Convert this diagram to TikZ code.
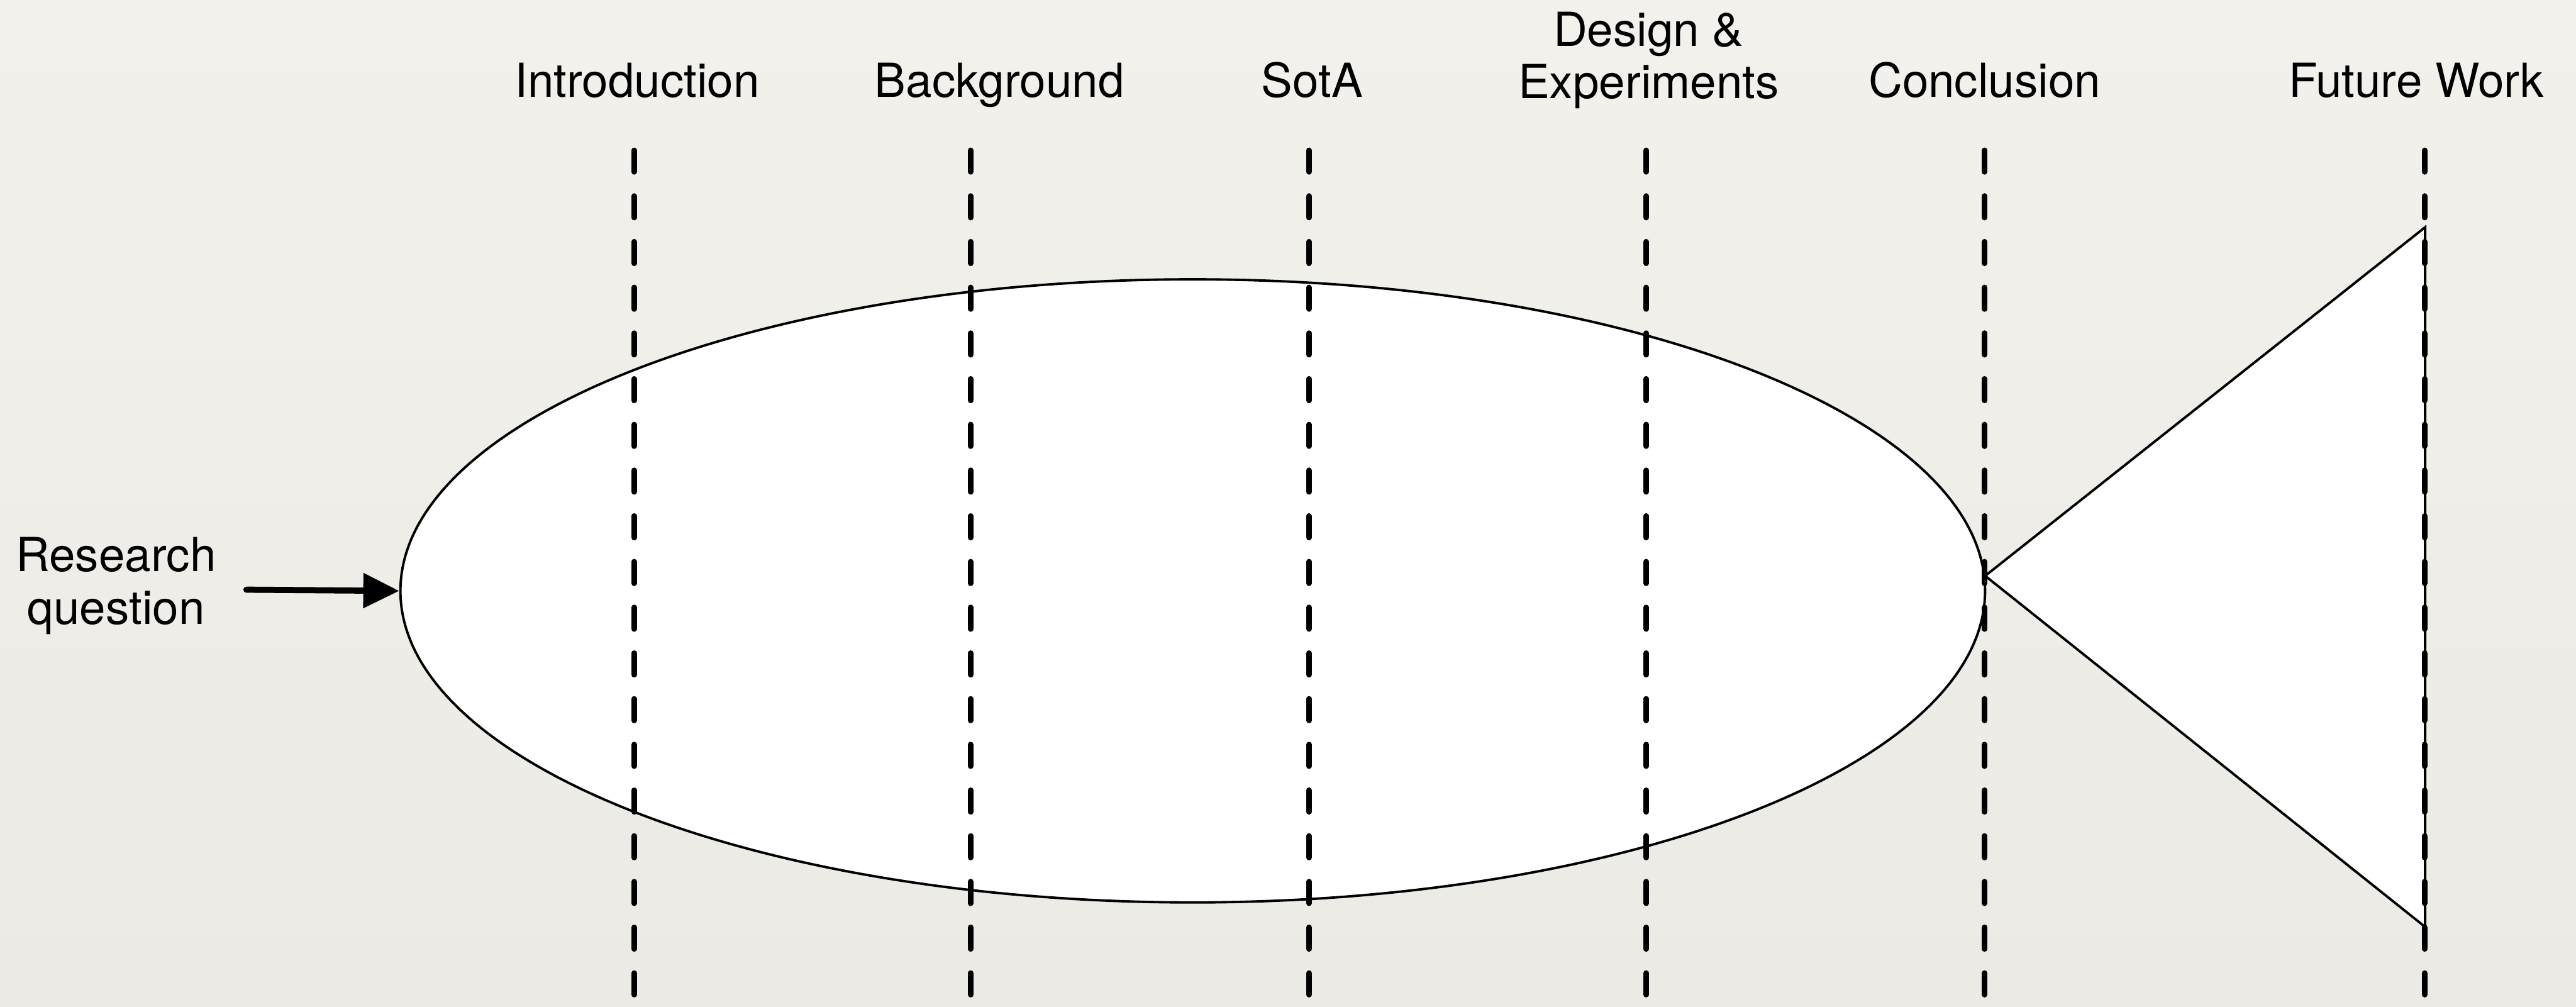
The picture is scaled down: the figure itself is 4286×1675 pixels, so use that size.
\documentclass[tikz,border=0pt]{standalone}
\usepackage{fontspec}
\setmainfont{TeX Gyre Heros}
\usetikzlibrary{arrows.meta,shapes.geometric}
\definecolor{bgtop}{HTML}{F3F1EC}
\definecolor{bgmid}{HTML}{E7E4DF}
\definecolor{bgbot}{HTML}{ECEAE5}
\tikzset{
  lbl/.style={inner sep=0pt, anchor=base, align=center, font=\fontsize{22.2}{24.7}\selectfont},
  divider/.style={line width=2.6pt, line cap=round, dash pattern=on 0.36cm off 0.40cm},
  outline/.style={draw=black, line width=1.15pt, fill=white},
  inarrow/.style={line width=2.9pt, line cap=round, -{Triangle[length=17pt,width=16pt]}}
}
\begin{document}
\begin{tikzpicture}[x=0.01cm, y=-0.01cm]
  \useasboundingbox (0,0) rectangle (4286,1675);
  \shade[top color=bgtop, middle color=bgmid, bottom color=bgbot] (0,0) rectangle (4286,1675);

  % fish body
  \node[outline, ellipse, inner sep=0pt, minimum width=26.35cm, minimum height=10.36cm] (body) at (1984.5,983) {};
  % tail
  \coordinate (apex) at (3303,958);
  \coordinate (tailtop) at (4035,378);
  \coordinate (tailbot) at (4035,1542);
  \draw[outline, line join=miter] (apex) -- (tailtop) -- (tailbot) -- cycle;

  % labels
  \node[lbl] (intro) at (1060,162) {Introduction};
  \node[lbl] (backg) at (1663,162) {Background};
  \node[lbl] (sota) at (2183,162) {SotA};
  \node[lbl] (design) at (2743,164) {Design \&\\Experiments};
  \node[lbl] (concl) at (3302,162) {Conclusion};
  \node[lbl] (future) at (4020,162) {Future Work};
  \node[lbl] (rq) at (193,1038) {Research\\question};

  % dashed dividers
  \foreach \i/\x in {1/1055,2/1615,3/2178,4/2739,5/3302,6/4034}{
    \coordinate (d\i t) at (\x,250);
    \coordinate (d\i b) at (\x,1700);
    \draw[divider] (d\i t) -- (d\i b);
  }

  % arrow
  \coordinate (arrstart) at (410,981);
  \draw[inarrow] (arrstart) -- (body.west);
\end{tikzpicture}
\end{document}
